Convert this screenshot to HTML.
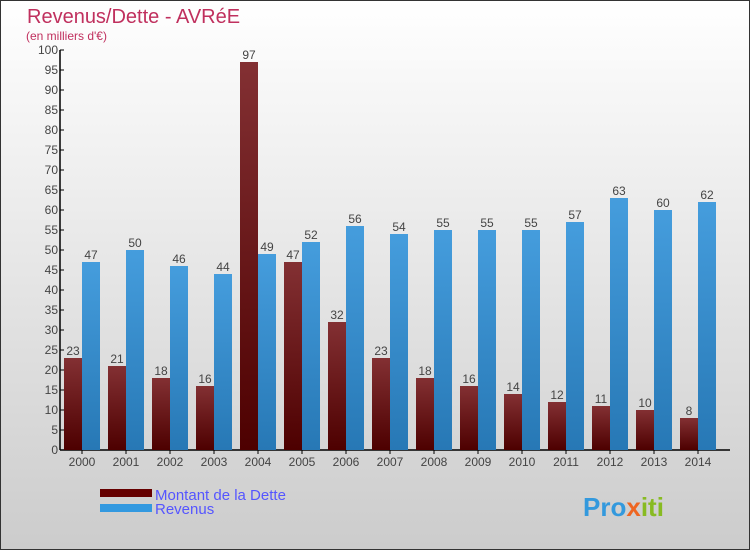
<!DOCTYPE html>
<html><head><meta charset="utf-8"><style>
body{margin:0;width:750px;height:550px;overflow:hidden;font-family:"Liberation Sans",sans-serif}
svg{display:block}
</style></head><body>
<svg id="chart" width="750" height="550">
<defs>
<linearGradient id="bg" x1="0" y1="0" x2="0" y2="1"><stop offset="0" stop-color="#ffffff"/><stop offset="1" stop-color="#cccccc"/></linearGradient>
<linearGradient id="gd" x1="0" y1="0" x2="0" y2="1"><stop offset="0" stop-color="#833033"/><stop offset="1" stop-color="#4d0000"/></linearGradient>
<linearGradient id="gr" x1="0" y1="0" x2="0" y2="1"><stop offset="0" stop-color="#459ddd"/><stop offset="1" stop-color="#2778b5"/></linearGradient>
</defs>
<rect x="0.5" y="0.5" width="749" height="549" fill="url(#bg)" stroke="#333"/>
<text x="27" y="23" font-size="20" fill="#c0305e">Revenus/Dette - AVRéE</text>
<text x="26" y="40" font-size="12" fill="#c0305e">(en milliers d'€)</text>
<g id="axes"></g>
<g id="bars"></g>
<rect x="100" y="489" width="52" height="8" fill="#660000"/>
<rect x="100" y="504" width="52" height="8" fill="#3399e0"/>
<text x="155" y="500" font-size="15" fill="#5555ff">Montant de la Dette</text>
<text x="155" y="514" font-size="15" fill="#5555ff">Revenus</text>
<text x="583" y="516" font-size="26" font-weight="bold" fill="#3399dd">Pro<tspan fill="#ee6622">x</tspan><tspan fill="#88bb22">iti</tspan></text>
</svg>
<script>
const years=["2000","2001","2002","2003","2004","2005","2006","2007","2008","2009","2010","2011","2012","2013","2014"];
const dette=[23,21,18,16,97,47,32,23,18,16,14,12,11,10,8];
const revenus=[47,50,46,44,49,52,56,54,55,55,55,57,63,60,62];
const yTicks=[0,5,10,15,20,25,30,35,40,45,50,55,60,65,70,75,80,85,90,95,100];
const NS="http://www.w3.org/2000/svg";
const y=v=>450-v*4, x0=i=>64+44*i;
function mk(t,a,p){const e=document.createElementNS(NS,t);for(const k in a)e.setAttribute(k,a[k]);p.appendChild(e);return e;}
const ax=document.getElementById('axes'),bg=document.getElementById('bars');
const yl=mk('line',{x1:60,y1:50,x2:60,y2:450,stroke:'#000','stroke-width':1.5},ax);


const xl=mk('line',{x1:60,y1:450,x2:730,y2:450,stroke:'#000','stroke-width':1.5},ax);


yTicks.forEach(v=>{
 mk('line',{x1:60,y1:y(v),x2:64,y2:y(v),stroke:'#000'},ax);
 const t=mk('text',{x:58,y:y(v)+4,'font-size':12,'text-anchor':'end',fill:'#444'},ax);t.textContent=v;
 
 
});
years.forEach((yr,i)=>{
 const t=mk('text',{x:x0(i)+18,y:466,'font-size':12,'text-anchor':'middle',fill:'#444'},ax);t.textContent=yr;
 
 
 mk('line',{x1:x0(i)+18,y1:450,x2:x0(i)+18,y2:454,stroke:'#000'},ax);
 const d=mk('rect',{x:x0(i),y:y(dette[i]),width:18,height:dette[i]*4,fill:'url(#gd)'},bg);
 
 
 const r=mk('rect',{x:x0(i)+18,y:y(revenus[i]),width:18,height:revenus[i]*4,fill:'url(#gr)'},bg);
 
 
 const dl=mk('text',{x:x0(i)+9,y:y(dette[i])-3,'font-size':12,'text-anchor':'middle',fill:'#444'},bg);dl.textContent=dette[i];
 
 
 const rl=mk('text',{x:x0(i)+27,y:y(revenus[i])-3,'font-size':12,'text-anchor':'middle',fill:'#444'},bg);rl.textContent=revenus[i];
 
 
});
</script>
</body></html>
